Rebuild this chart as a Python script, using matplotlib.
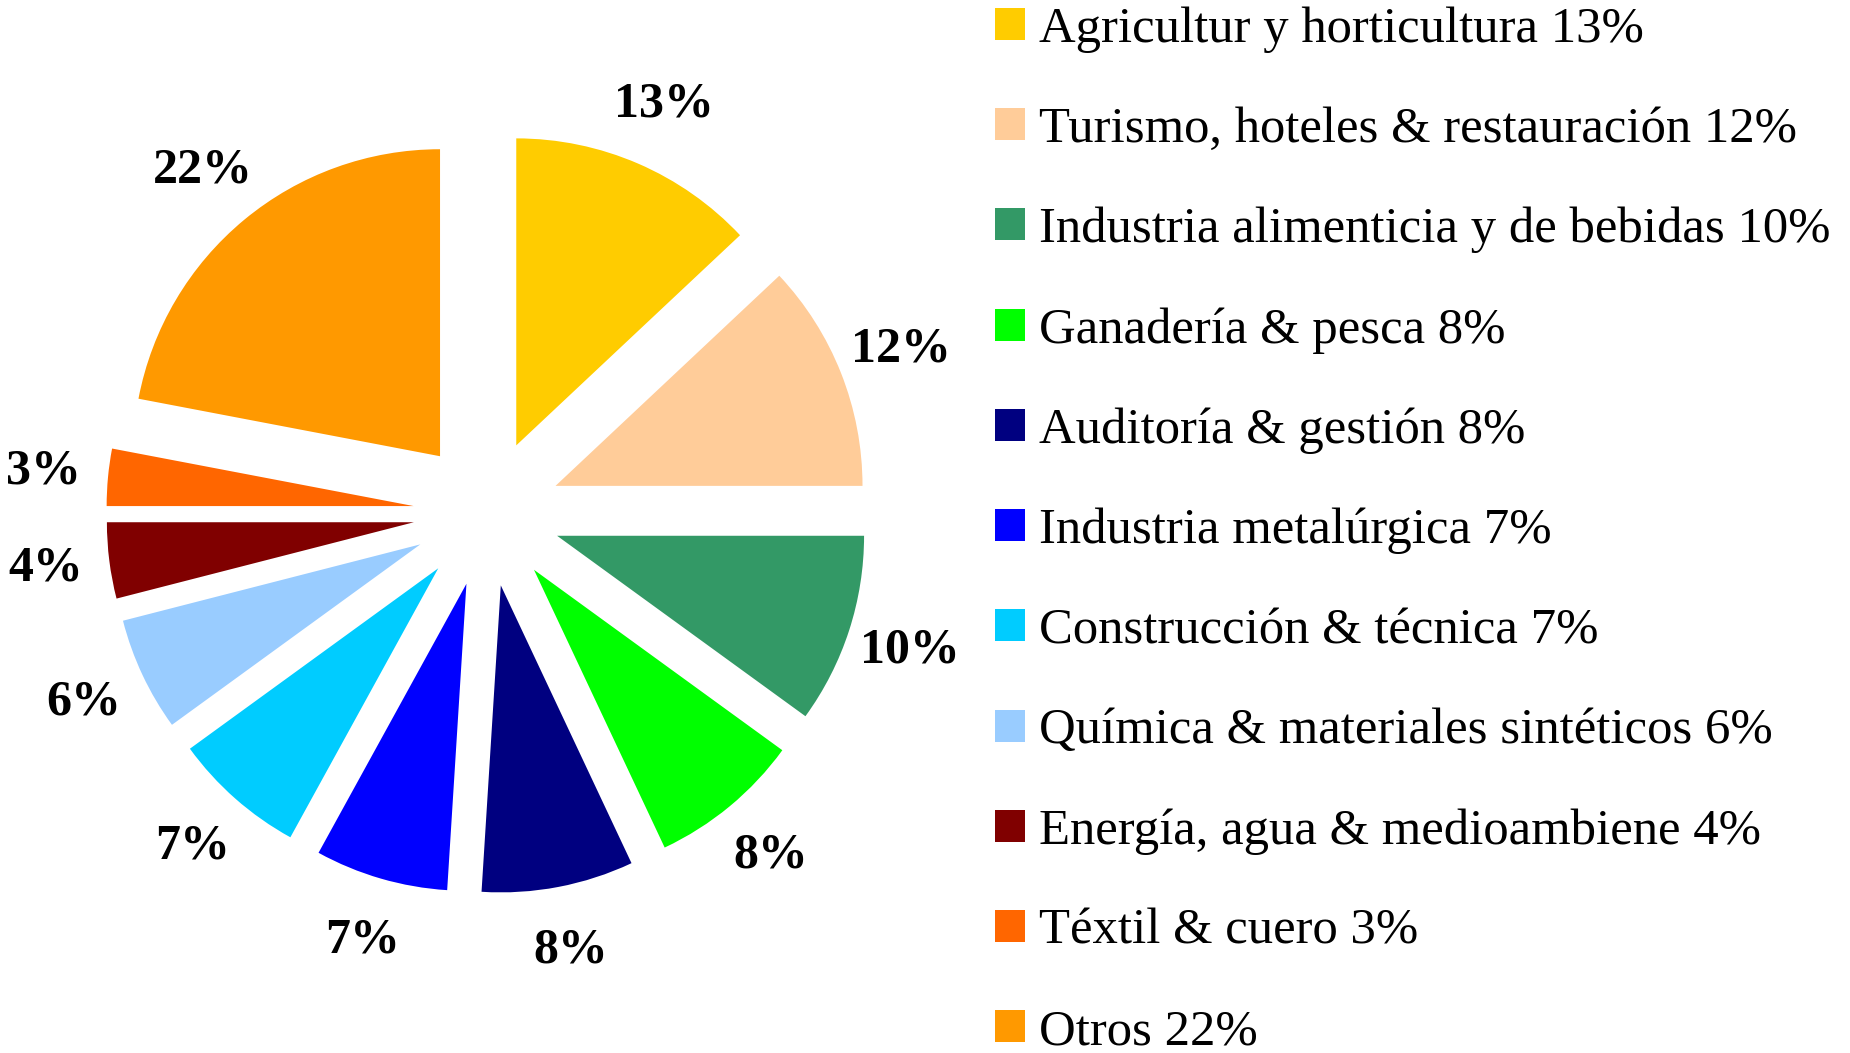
import matplotlib.pyplot as plt

sectores = ['Agricultur y horticultura', 'Turismo, hoteles & restauración',
            'Industria alimenticia y de bebidas', 'Ganadería & pesca',
            'Auditoría & gestión', 'Industria metalúrgica',
            'Construcción & técnica', 'Química & materiales sintéticos',
            'Energía, agua & medioambiene', 'Téxtil & cuero', 'Otros']
porcentajes = [13, 12, 10, 8, 8, 7, 7, 6, 4, 3, 22]
colores = ['#FFCC00', '#FFCC99', '#339966', '#00FF00', '#000080', '#0000FF',
           '#00CCFF', '#99CCFF', '#800000', '#FF6600', '#FF9900']

fig = plt.figure(figsize=(18.5, 10.53), dpi=100)
ax = fig.add_axes([0, 0, 1, 1])

wedges, texts, autotexts = ax.pie(
    porcentajes, colors=colores, startangle=90, counterclock=False,
    explode=[0.24] * len(porcentajes), autopct='%d%%', pctdistance=1.21,
    wedgeprops=dict(linewidth=0),
    textprops=dict(family='Liberation Serif', fontweight='bold', fontsize=36))

# posición del pastel en la figura (px): centro (484, 513), radio 307
r_px = 307
ax.set_xlim(-487 / r_px, (1850 - 487) / r_px)
ax.set_ylim(-(1053 - 513) / r_px, 513 / r_px)

etiquetas = [f'{s} {p}%' for s, p in zip(sectores, porcentajes)]
fig.legend(wedges, etiquetas, loc='upper left', bbox_to_anchor=(0.538, 0.994),
           frameon=False, prop=dict(family='Liberation Serif', size=36.5),
           handlelength=0.59, handleheight=0.59, handletextpad=0.28,
           labelspacing=1.06, borderpad=0, borderaxespad=0)

fig.savefig('out.png', dpi=100)
